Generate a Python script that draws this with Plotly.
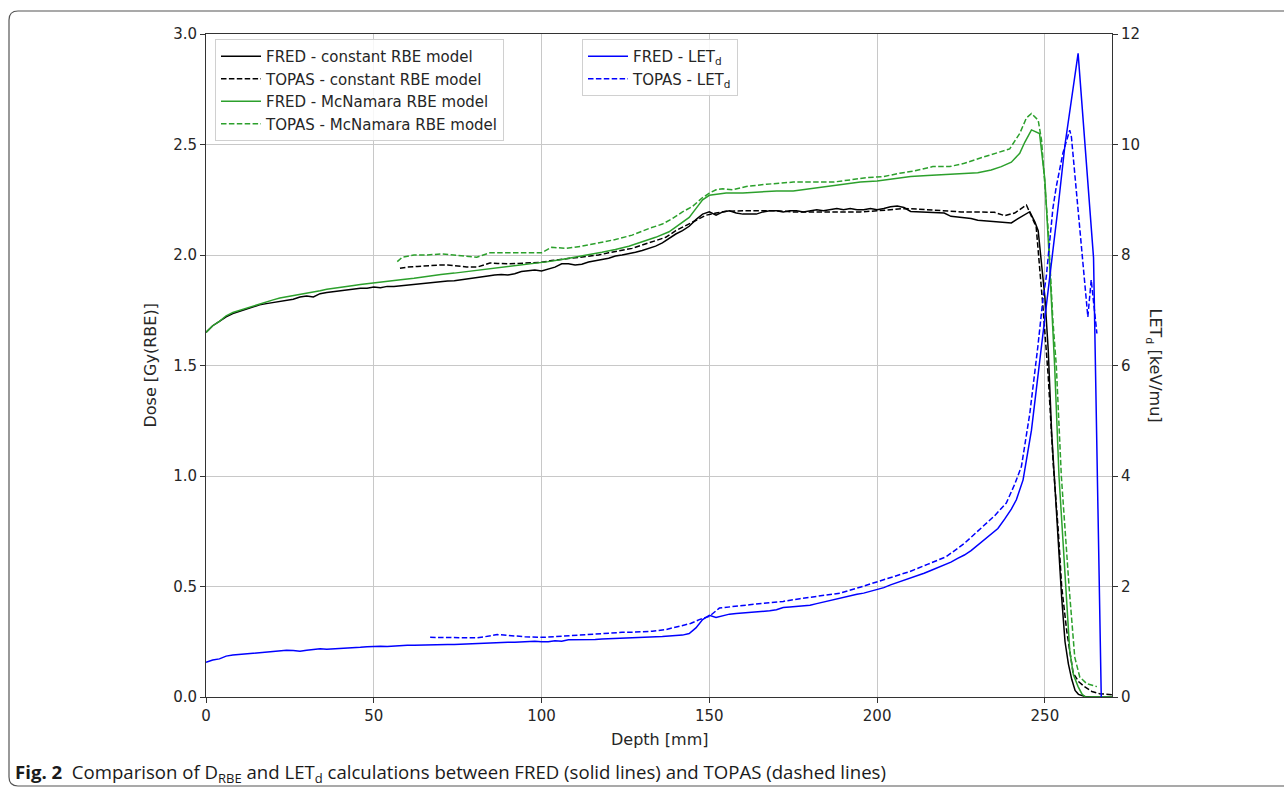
import plotly.graph_objects as go

# ---------------- data ----------------
fred_const_depth = [0, 2, 4, 6, 8, 10, 12, 14, 16, 18, 20, 22, 24, 26, 28, 30, 32, 34, 36, 38, 40, 42, 44, 46, 48, 50,
                    52, 54, 56, 58, 60, 62, 64, 66, 68, 70, 72, 74, 76, 78, 80, 82, 84, 86, 88, 90, 92, 94, 96, 98, 100,
                    102, 104, 106, 108, 110, 112, 114, 116, 118, 120, 122, 124, 126, 128, 130, 132, 134, 136, 138, 140,
                    142, 144, 146, 148, 150, 152, 154, 156, 158, 160, 162, 164, 166, 168, 170, 172, 174, 176, 178, 180,
                    182, 184, 186, 188, 190, 192, 194, 196, 198, 200, 202, 204, 206, 208, 210, 212, 214, 216, 218, 220,
                    222, 224, 226, 228, 230, 232, 234, 236, 238, 240, 242, 244, 245.5, 247, 248, 249, 250, 251, 252, 253,
                    254, 255, 256, 257, 258, 259, 260, 262, 264, 266, 268, 270]
fred_const_dose = [1.65, 1.68, 1.70, 1.72, 1.735, 1.745, 1.755, 1.765, 1.775, 1.78, 1.785, 1.79, 1.795, 1.80, 1.81,
                   1.815, 1.81, 1.825, 1.83, 1.834, 1.835, 1.84, 1.845, 1.85, 1.85, 1.855, 1.852, 1.858, 1.857, 1.86,
                   1.865, 1.868, 1.87, 1.875, 1.875, 1.88, 1.882, 1.883, 1.887, 1.89, 1.895, 1.90, 1.905, 1.91, 1.912,
                   1.91, 1.915, 1.925, 1.93, 1.932, 1.928, 1.935, 1.945, 1.96, 1.96, 1.955, 1.958, 1.968, 1.975, 1.98,
                   1.985, 1.995, 2.0, 2.005, 2.012, 2.02, 2.03, 2.04, 2.055, 2.075, 2.095, 2.11, 2.13, 2.16, 2.185,
                   2.195, 2.18, 2.195, 2.20, 2.19, 2.185, 2.185, 2.185, 2.195, 2.20, 2.20, 2.195, 2.20, 2.20, 2.195,
                   2.20, 2.205, 2.20, 2.205, 2.21, 2.205, 2.21, 2.205, 2.205, 2.21, 2.205, 2.21, 2.218, 2.222, 2.215,
                   2.197, 2.195, 2.195, 2.193, 2.192, 2.19, 2.175, 2.172, 2.17, 2.165, 2.157, 2.154, 2.152, 2.15,
                   2.148, 2.145, 2.165, 2.185, 2.196, 2.15, 2.11, 1.96, 1.81, 1.57, 1.2, 0.95, 0.68, 0.45, 0.25, 0.15,
                   0.08, 0.03, 0.012, 0.002, 0.0, 0.0, 0.0, 0.0]

topas_const_depth = [57.8, 60, 63, 66, 69.7, 72, 75, 77.7, 81, 84.6, 87, 90, 93, 97.4, 100, 103, 106, 109, 112, 115,
                     117, 120, 124, 127, 130, 133, 137, 140, 144, 147, 149, 152, 155, 160, 165, 170, 175, 180, 185,
                     190, 195, 200, 205, 208, 212, 216, 220, 225, 230, 235, 238, 241, 244.5, 247.4, 249.4, 251, 252.5,
                     254, 255, 256.5, 258.4, 260, 261.8, 264, 266.3, 268, 270]
topas_const_dose = [1.94, 1.945, 1.948, 1.952, 1.955, 1.955, 1.95, 1.946, 1.946, 1.964, 1.962, 1.96, 1.962, 1.964,
                    1.967, 1.975, 1.98, 1.985, 1.99, 1.995, 2.0, 2.01, 2.02, 2.03, 2.045, 2.06, 2.08, 2.11, 2.14,
                    2.165, 2.18, 2.19, 2.198, 2.20, 2.20, 2.20, 2.195, 2.195, 2.195, 2.195, 2.195, 2.20, 2.205, 2.21,
                    2.208, 2.205, 2.2, 2.195, 2.195, 2.193, 2.178, 2.19, 2.226, 2.128, 1.77, 1.45, 1.05, 0.75, 0.5,
                    0.3, 0.11, 0.07, 0.047, 0.025, 0.015, 0.012, 0.01]

fred_mcn_depth = [0, 2, 4, 6, 8, 10, 12, 14, 16, 18, 20, 22, 24, 26, 28, 30, 32, 34, 36, 38, 40, 42, 44, 46, 48, 50,
                  54, 58, 62, 66, 70, 74, 78, 82, 86, 90, 94, 98, 102, 106, 110, 114, 118, 122, 126, 130, 134, 138,
                  142, 144, 146, 148, 150, 152, 155, 160, 165, 170, 175, 180, 185, 190, 195, 200, 205, 210, 215, 220,
                  225, 230, 234, 237, 240, 242.5, 244, 246, 248.4, 250, 251.4, 252.9, 254.2, 255.4, 256.1, 257.4,
                  258.5, 259.9, 261, 262, 264, 266, 268, 270]
fred_mcn_dose = [1.65, 1.68, 1.70, 1.725, 1.74, 1.75, 1.76, 1.77, 1.78, 1.79, 1.797, 1.805, 1.81, 1.815, 1.82, 1.827,
                 1.832, 1.838, 1.845, 1.85, 1.853, 1.858, 1.862, 1.866, 1.87, 1.875, 1.882, 1.888, 1.895, 1.905,
                 1.912, 1.918, 1.925, 1.935, 1.942, 1.948, 1.955, 1.962, 1.97, 1.98, 1.99, 2.0, 2.012, 2.025, 2.04,
                 2.06, 2.08, 2.105, 2.15, 2.17, 2.21, 2.25, 2.27, 2.275, 2.28, 2.28, 2.285, 2.29, 2.29, 2.30, 2.31,
                 2.32, 2.33, 2.335, 2.345, 2.355, 2.36, 2.365, 2.368, 2.372, 2.385, 2.40, 2.42, 2.46, 2.51, 2.566,
                 2.55, 2.34, 1.96, 1.5, 1.0, 0.71, 0.5, 0.21, 0.1, 0.047, 0.015, 0.0, 0.0, 0.0, 0.0, 0.0]

topas_mcn_depth = [57, 58.5, 62, 66, 70, 74, 78, 80.7, 84.6, 88, 92, 96, 100, 103, 107.5, 112, 117, 122, 127, 132,
                   136, 139, 142, 145, 148, 150, 152, 154, 157, 161, 167, 171, 175, 181, 187, 192, 197, 202, 206.7,
                   211, 216.6, 221.6, 226, 231, 235, 239.5, 242.5, 244.5, 246, 248, 249, 251, 252.4, 253.4, 254.9,
                   256.2, 257.2, 258.9, 260.4, 262.5, 265.5]
topas_mcn_dose = [1.97, 1.99, 2.0, 2.0, 2.005, 2.0, 1.995, 1.99, 2.01, 2.01, 2.012, 2.012, 2.01, 2.035, 2.03, 2.04,
                  2.055, 2.07, 2.09, 2.12, 2.14, 2.165, 2.195, 2.22, 2.26, 2.28, 2.295, 2.30, 2.295, 2.31, 2.32,
                  2.325, 2.33, 2.33, 2.33, 2.34, 2.35, 2.355, 2.37, 2.38, 2.40, 2.40, 2.415, 2.44, 2.46, 2.48, 2.55,
                  2.62, 2.64, 2.61, 2.52, 2.11, 1.7, 1.5, 1.0, 0.71, 0.5, 0.18, 0.09, 0.06, 0.047]

fred_let_depth = [0, 2, 4, 6, 8, 10, 12, 14, 16, 18, 20, 22, 24, 26, 28, 30, 32, 34, 36, 38, 40, 42, 44, 46, 48, 50,
                  52, 54, 56, 58, 60, 62, 64, 66, 68, 70, 72, 74, 76, 78, 80, 82, 84, 86, 88, 90, 92, 94, 96, 98, 100,
                  102, 104, 106, 108, 110, 112, 114, 116, 118, 120, 122, 124, 126, 128, 130, 132, 134, 136, 138, 140,
                  142, 144, 146, 148, 150, 152, 154, 156, 158, 160, 162, 164, 166, 168, 170, 172, 174, 176, 178, 180,
                  182, 184, 186, 188, 190, 192, 194, 196, 198, 200, 202, 204, 206, 208, 210, 212, 214, 216, 218, 220,
                  222, 224, 226, 228, 230, 232, 234, 236, 238, 240, 241.5, 243.5, 246, 248.4, 250.4, 252, 254, 256,
                  258, 259.9, 264.5, 266.8]
fred_let = [0.63, 0.67, 0.69, 0.74, 0.76, 0.77, 0.79, 0.80, 0.81, 0.82, 0.83, 0.835, 0.845, 0.84, 0.83, 0.845, 0.86,
            0.875, 0.865, 0.87, 0.885, 0.89, 0.89, 0.9, 0.91, 0.92, 0.92, 0.915, 0.925, 0.93, 0.935, 0.935, 0.94,
            0.945, 0.95, 0.95, 0.95, 0.95, 0.955, 0.96, 0.965, 0.975, 0.985, 0.99, 0.985, 0.99, 0.99, 0.995, 1.005,
            1.01, 1.0, 1.0, 1.02, 1.01, 1.035, 1.035, 1.03, 1.04, 1.04, 1.05, 1.055, 1.055, 1.06, 1.07, 1.075, 1.07,
            1.08, 1.09, 1.095, 1.105, 1.11, 1.12, 1.15, 1.25, 1.40, 1.48, 1.44, 1.47, 1.5, 1.51, 1.52, 1.52, 1.53,
            1.55, 1.56, 1.58, 1.62, 1.63, 1.64, 1.65, 1.66, 1.69, 1.72, 1.75, 1.78, 1.8, 1.83, 1.86, 1.88, 1.91,
            1.94, 1.98, 2.03, 2.07, 2.12, 2.16, 2.19, 2.24, 2.29, 2.34, 2.39, 2.44, 2.51, 2.57, 2.65, 2.75, 2.84,
            2.95, 3.05, 3.22, 3.4, 3.57, 3.93, 4.83, 6.04, 7.06, 7.8, 8.9, 10.0, 10.85, 11.65, 7.95, 0.0]

topas_let_depth = [66.8, 70, 75, 80.5, 83, 86.8, 90, 95, 101, 106, 112.4, 118, 124, 128, 133, 137, 141, 144.4, 147,
                   150, 153, 157, 162, 167, 172, 177, 183, 188.9, 194, 200, 204, 209.7, 215, 220.6, 226, 231.5, 235,
                   238.5, 241, 243, 245.5, 247.9, 249.4, 250.4, 252.4, 253.4, 255.4, 257.4, 257.9, 262.8, 263.8,
                   265.5]
topas_let = [1.08, 1.08, 1.08, 1.07, 1.09, 1.13, 1.115, 1.09, 1.08, 1.10, 1.13, 1.15, 1.17, 1.175, 1.19, 1.22, 1.28,
             1.33, 1.40, 1.46, 1.61, 1.64, 1.67, 1.70, 1.73, 1.78, 1.83, 1.88, 1.97, 2.09, 2.16, 2.27, 2.40, 2.54,
             2.78, 3.08, 3.28, 3.51, 3.85, 4.17, 5.13, 6.34, 7.19, 7.6, 8.85, 9.24, 9.85, 10.26, 10.14, 6.88, 7.55,
             6.58]

x_ticks = [0, 50, 100, 150, 200, 250]
dose_ticks = [0.0, 0.5, 1.0, 1.5, 2.0, 2.5, 3.0]
let_ticks = [0, 2, 4, 6, 8, 10, 12]

# ---------------- figure ----------------
BLACK = "#000000"
GREEN = "#2ca02c"
BLUE = "#0000ff"
DASH = "5.5px,2.4px"
LW = 1.5

fig = go.Figure()
fig.add_trace(go.Scatter(x=fred_const_depth, y=fred_const_dose, mode="lines", name="FRED - constant RBE model",
                         line=dict(color=BLACK, width=LW), legend="legend"))
fig.add_trace(go.Scatter(x=topas_const_depth, y=topas_const_dose, mode="lines", name="TOPAS - constant RBE model",
                         line=dict(color=BLACK, width=LW, dash=DASH), legend="legend"))
fig.add_trace(go.Scatter(x=fred_mcn_depth, y=fred_mcn_dose, mode="lines", name="FRED - McNamara RBE model",
                         line=dict(color=GREEN, width=LW), legend="legend"))
fig.add_trace(go.Scatter(x=topas_mcn_depth, y=topas_mcn_dose, mode="lines", name="TOPAS - McNamara RBE model",
                         line=dict(color=GREEN, width=LW, dash=DASH), legend="legend"))
fig.add_trace(go.Scatter(x=fred_let_depth, y=fred_let, mode="lines", name="FRED - LET<sub>d</sub>",
                         line=dict(color=BLUE, width=LW), yaxis="y2", legend="legend2"))
fig.add_trace(go.Scatter(x=topas_let_depth, y=topas_let, mode="lines", name="TOPAS - LET<sub>d</sub>",
                         line=dict(color=BLUE, width=LW, dash=DASH), yaxis="y2", legend="legend2"))

W, H = 1284, 789
L, R, T, B = 206, 172, 34, 92
pw, ph = W - L - R, H - T - B


def px(xp):
    return (xp - L) / pw


def py(yp):
    return (H - B - yp) / ph


axis_font = dict(family="DejaVu Sans", size=15, color="#262626")
common_axis = dict(showline=True, linecolor="#333333", linewidth=1, ticks="outside", ticklen=5, tickwidth=1,
                   tickcolor="#333333", tickfont=axis_font, zeroline=False)

fig.update_layout(
    width=W, height=H,
    margin=dict(l=L, r=R, t=T, b=B),
    paper_bgcolor="white", plot_bgcolor="white",
    font=dict(family="DejaVu Sans", size=15, color="#262626"),
    xaxis=dict(range=[0, 270], tickvals=x_ticks, ticktext=[str(v) for v in x_ticks], mirror=True,
               showgrid=True, gridcolor="#c8c8c8", gridwidth=1, **common_axis),
    yaxis=dict(range=[0, 3.0], tickvals=dose_ticks, ticktext=[f"{v:.1f}" for v in dose_ticks],
               showgrid=True, gridcolor="#c8c8c8", gridwidth=1, **common_axis),
    yaxis2=dict(range=[0, 12], tickvals=let_ticks, ticktext=[str(v) for v in let_ticks], overlaying="y",
                side="right", showgrid=False, **common_axis),
    legend=dict(x=px(215), y=py(39), xanchor="left", yanchor="top", bgcolor="rgba(255,255,255,0.85)",
                bordercolor="#d0d0d0", borderwidth=1, font=dict(family="DejaVu Sans", size=15, color="#262626"),
                tracegroupgap=0, itemwidth=40),
    legend2=dict(x=px(582), y=py(39), xanchor="left", yanchor="top", bgcolor="rgba(255,255,255,0.85)",
                 bordercolor="#d0d0d0", borderwidth=1, font=dict(family="DejaVu Sans", size=15, color="#262626"),
                 tracegroupgap=0, itemwidth=40),
    showlegend=True,
)

annotations = [
    dict(text="Dose [Gy(RBE)]", x=px(150), y=0.5, xref="paper", yref="paper", showarrow=False, textangle=-90,
         xanchor="center", yanchor="middle", font=dict(family="DejaVu Sans", size=16, color="#262626")),
    dict(text="LET<sub>d</sub> [keV/mu]", x=px(1154), y=0.5, xref="paper", yref="paper", showarrow=False,
         textangle=90, xanchor="center", yanchor="middle", font=dict(family="DejaVu Sans", size=16, color="#262626")),
    dict(text="Depth [mm]", x=0.5, y=py(739), xref="paper", yref="paper", showarrow=False, xanchor="center",
         yanchor="middle", font=dict(family="DejaVu Sans", size=16, color="#262626")),
    dict(text="<b>Fig. 2</b>  Comparison of D<sub>RBE</sub> and LET<sub>d</sub> calculations between FRED (solid lines) and TOPAS (dashed lines)",
         x=px(13), y=py(773), xref="paper", yref="paper", showarrow=False, xanchor="left", yanchor="middle",
         font=dict(family="Open Sans", size=18.6, color="#1a1a1a")),
]
fig.update_layout(annotations=annotations)

# rounded frame around the figure
x0, x1 = px(9), px(1292)
y0, y1 = py(11), py(786)
rx, ry = 9 / pw, 9 / ph
path = (f"M {x1} {y0} L {x0 + rx} {y0} Q {x0} {y0} {x0} {y0 - ry} "
        f"L {x0} {y1 + ry} Q {x0} {y1} {x0 + rx} {y1} L {x1} {y1}")
fig.add_shape(type="path", path=path, xref="paper", yref="paper", line=dict(color="#555555", width=1.2))

fig.write_html("out.html")
